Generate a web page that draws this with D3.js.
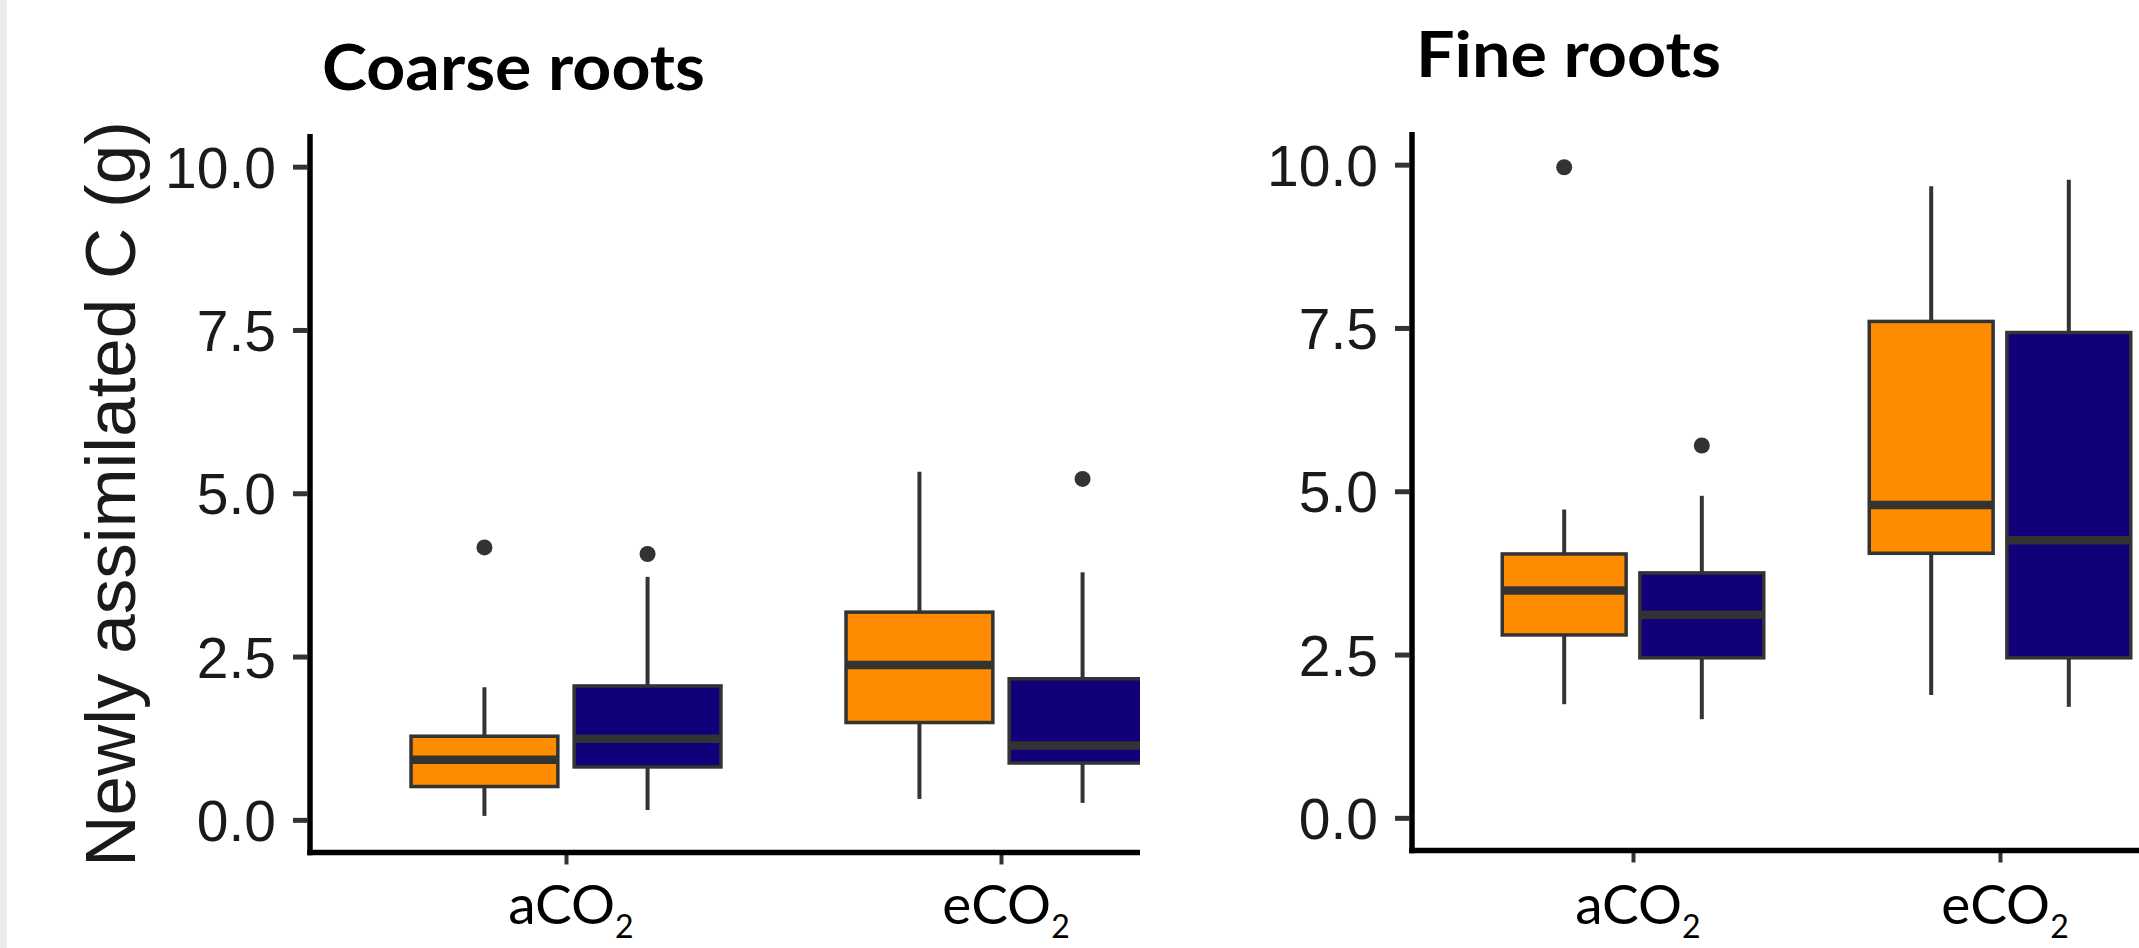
<!DOCTYPE html>
<html>
<head>
<meta charset="utf-8">
<script src="https://cdn.jsdelivr.net/npm/d3@7"></script>
<style>
  html, body { margin: 0; padding: 0; background: #ffffff; overflow: hidden; }
  svg { display: block; }
</style>
</head>
<body>
<div id="plot"></div>
<script>
// categories on the x axis
var groups = ["aCO2", "eCO2"];
// y ticks
var yTicks = [0, 2.5, 5, 7.5, 10];

// box stats: [lower whisker, q1, median, q3, upper whisker], one row per group
var coarseOrange = [[0.06, 0.51, 0.92, 1.28, 2.03], [0.32, 1.49, 2.37, 3.18, 5.33]];
var coarseBlue   = [[0.15, 0.81, 1.24, 2.05, 3.72], [0.26, 0.87, 1.14, 2.16, 3.79]];
var coarseOrangeOut = [[4.17], []];
var coarseBlueOut   = [[4.07], [5.22]];

var fineOrange = [[1.74, 2.80, 3.48, 4.04, 4.72], [1.88, 4.05, 4.79, 7.60, 9.67]];
var fineBlue   = [[1.51, 2.45, 3.11, 3.75, 4.93], [1.70, 2.45, 4.25, 7.43, 9.77]];
var fineOrangeOut = [[9.96], []];
var fineBlueOut   = [[5.70], []];

var fillOrange = "#ff8c00";
var fillBlue = "#10007a";

var W = 2139, H = 948;

var svg = d3.select("#plot").append("svg")
  .attr("width", W)
  .attr("height", H);

// thin grey strip on the left edge of the screenshot
svg.append("rect")
  .attr("x", 0).attr("y", 0)
  .attr("width", 7).attr("height", H)
  .attr("fill", "#ebebeb");

var defs = svg.append("defs");

function drawPanel(cfg) {
  defs.append("clipPath").attr("id", cfg.id + "_clip")
    .append("rect")
    .attr("x", 0).attr("y", 0)
    .attr("width", cfg.clipRight).attr("height", H);

  var g = svg.append("g").attr("clip-path", "url(#" + cfg.id + "_clip)");

  var y = d3.scaleLinear().domain([-0.5, 10.5]).range([cfg.bottom, cfg.top]);
  var x = d3.scaleLinear().domain([1, 2]).range(cfg.tickX);
  var step = cfg.tickX[1] - cfg.tickX[0];
  var boxW = 0.3375 * step;
  var dodge = 0.1875 * step;

  var series = [
    { stats: cfg.orange, out: cfg.orangeOut, fill: fillOrange, shift: -dodge },
    { stats: cfg.blue, out: cfg.blueOut, fill: fillBlue, shift: dodge }
  ];

  // boxes
  series.forEach(function (s) {
    var sg = g.append("g");
    s.stats.forEach(function (d, i) {
      var cx = x(i + 1) + s.shift;
      sg.append("line")
        .attr("x1", cx).attr("x2", cx)
        .attr("y1", y(d[4])).attr("y2", y(d[3]))
        .attr("stroke", "#333333").attr("stroke-width", 4);
      sg.append("line")
        .attr("x1", cx).attr("x2", cx)
        .attr("y1", y(d[1])).attr("y2", y(d[0]))
        .attr("stroke", "#333333").attr("stroke-width", 4);
      sg.append("rect")
        .attr("x", cx - boxW / 2)
        .attr("y", y(d[3]))
        .attr("width", boxW)
        .attr("height", y(d[1]) - y(d[3]))
        .attr("fill", s.fill)
        .attr("stroke", "#333333")
        .attr("stroke-width", 3.5);
      sg.append("line")
        .attr("x1", cx - boxW / 2).attr("x2", cx + boxW / 2)
        .attr("y1", y(d[2])).attr("y2", y(d[2]))
        .attr("stroke", "#333333").attr("stroke-width", 8.5);
      s.out[i].forEach(function (v) {
        sg.append("circle")
          .attr("cx", cx).attr("cy", y(v))
          .attr("r", 8)
          .attr("fill", "#333333");
      });
    });
  });

  // y axis ticks + labels
  var yAxis = d3.axisLeft(y)
    .tickValues(yTicks)
    .tickFormat(d3.format(".1f"))
    .tickSize(15)
    .tickPadding(17);
  var ya = svg.append("g")
    .attr("transform", "translate(" + (cfg.left - 2) + ",0)")
    .call(yAxis);
  ya.select(".domain").remove();
  ya.selectAll(".tick line").attr("stroke", "#333333").attr("stroke-width", 5);
  ya.selectAll(".tick text")
    .attr("font-family", "'Liberation Sans', Arial, sans-serif")
    .attr("font-size", 57)
    .attr("fill", "#1a1a1a")
    .attr("dy", "0.36em");

  // x axis ticks
  var xAxis = d3.axisBottom(x).tickValues([1, 2]).tickSize(12).tickFormat("");
  var xa = g.append("g")
    .attr("transform", "translate(0," + cfg.bottom + ")")
    .call(xAxis);
  xa.select(".domain").remove();
  xa.selectAll(".tick line").attr("stroke", "#333333").attr("stroke-width", 4);

  // axis lines
  g.append("line")
    .attr("x1", cfg.left).attr("x2", cfg.left)
    .attr("y1", cfg.top).attr("y2", cfg.bottom + 2.75)
    .attr("stroke", "#000000").attr("stroke-width", 5.5);
  g.append("line")
    .attr("x1", cfg.left - 2.75).attr("x2", W)
    .attr("y1", cfg.bottom).attr("y2", cfg.bottom)
    .attr("stroke", "#000000").attr("stroke-width", 5.5);

  // x labels with subscript 2
  groups.forEach(function (name, i) {
    var t = svg.append("text")
      .attr("x", x(i + 1) + 5)
      .attr("y", 924)
      .attr("text-anchor", "middle")
      .attr("font-family", "Lato, 'Open Sans', sans-serif")
      .attr("font-size", 55)
      .attr("fill", "#000000");
    t.append("tspan").text(name.slice(0, 3));
    t.append("tspan").attr("font-size", 32).attr("dy", 14).text(name.slice(3));
  });

  // panel title
  svg.append("text")
    .attr("x", cfg.titleX)
    .attr("y", cfg.titleY)
    .attr("font-family", "Lato, 'Open Sans', sans-serif")
    .attr("font-weight", "bold")
    .attr("font-size", 64)
    .attr("textLength", cfg.titleW)
    .attr("lengthAdjust", "spacingAndGlyphs")
    .attr("fill", "#000000")
    .text(cfg.title);
}

drawPanel({
  id: "coarse", title: "Coarse roots",
  left: 310, top: 134, bottom: 852.5, clipRight: 1140,
  tickX: [566, 1001],
  titleX: 322, titleY: 90, titleW: 383,
  orange: coarseOrange, blue: coarseBlue,
  orangeOut: coarseOrangeOut, blueOut: coarseBlueOut
});

drawPanel({
  id: "fine", title: "Fine roots",
  left: 1412, top: 132, bottom: 850.5, clipRight: W,
  tickX: [1633, 2000],
  titleX: 1416, titleY: 77, titleW: 305,
  orange: fineOrange, blue: fineBlue,
  orangeOut: fineOrangeOut, blueOut: fineBlueOut
});

// y axis title
svg.append("text")
  .attr("transform", "translate(135,494) rotate(-90)")
  .attr("text-anchor", "middle")
  .attr("font-family", "'Liberation Sans', Arial, sans-serif")
  .attr("font-size", 71)
  .attr("fill", "#1a1a1a")
  .text("Newly assimilated C (g)");
</script>
</body>
</html>
